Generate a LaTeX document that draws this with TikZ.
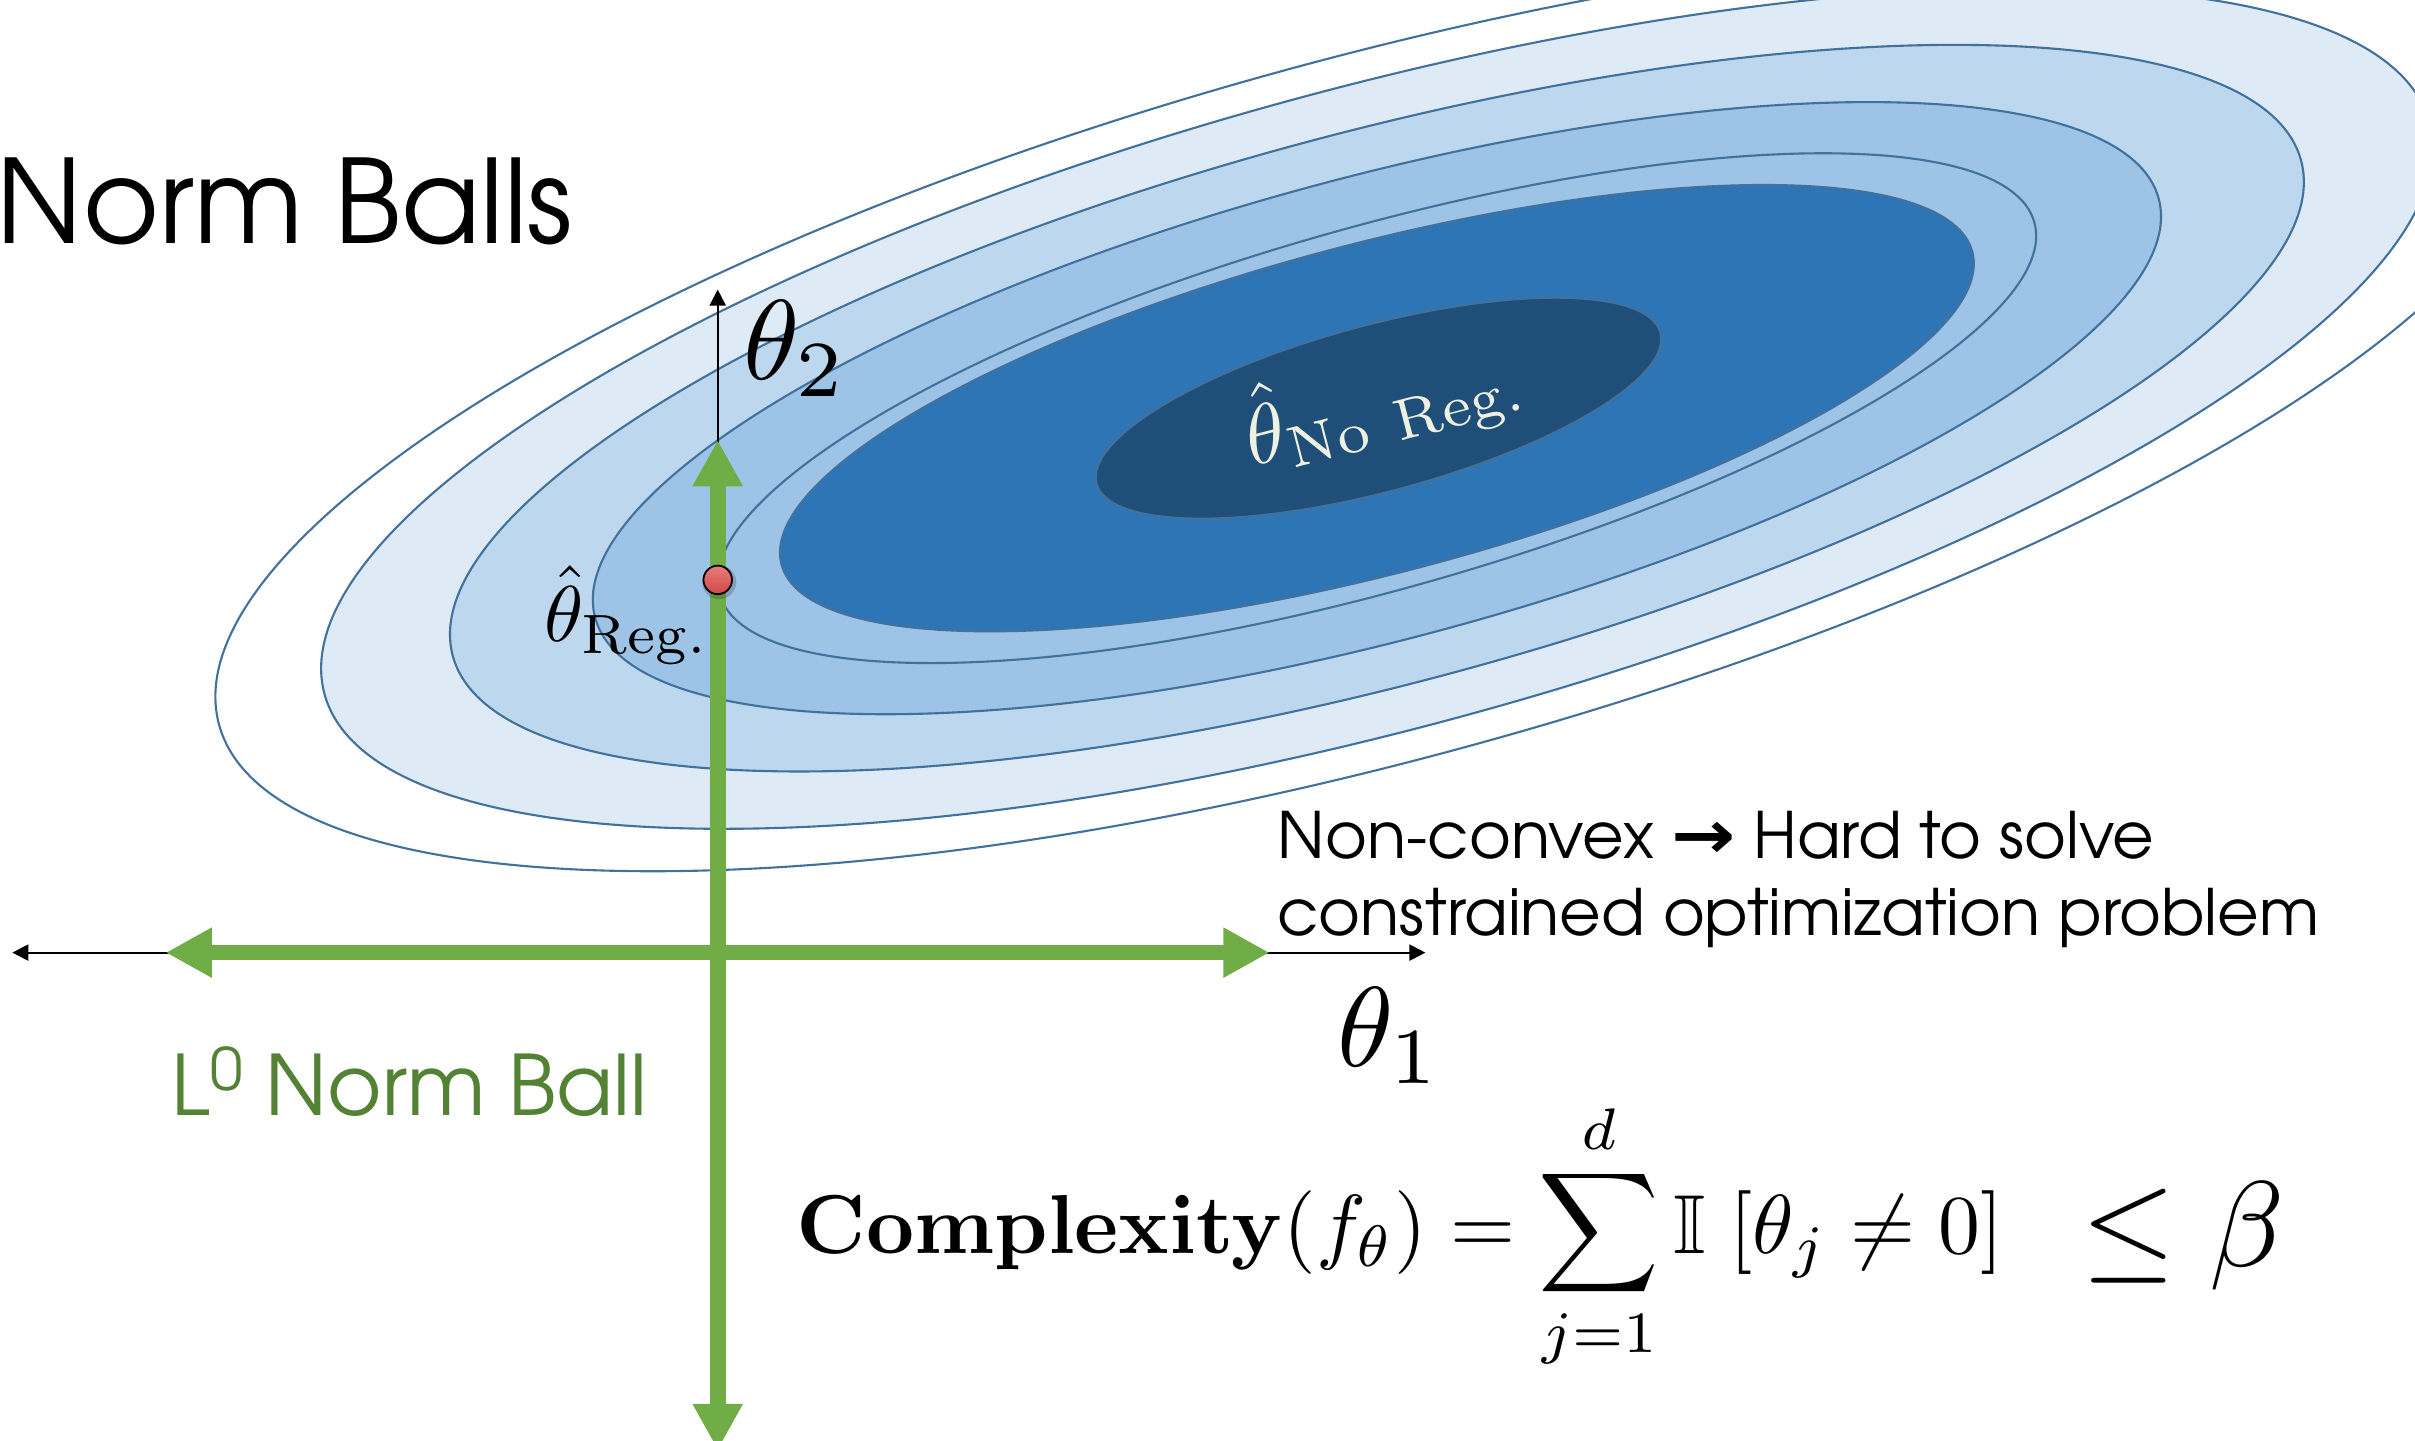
\documentclass[tikz,border=0pt]{standalone}
\usepackage{amsmath,amssymb}
\usepackage[no-math]{fontspec}
\usepackage{graphicx}
\usetikzlibrary{arrows.meta}
\newfontfamily\gothic{texgyreadventor}[Extension=.otf, UprightFont=*-regular, BoldFont=*-bold]
\newfontfamily\dejavu{DejaVu Sans}
\definecolor{fillA}{HTML}{DEEBF7}
\definecolor{fillB}{HTML}{BDD7EE}
\definecolor{fillC}{HTML}{9DC3E6}
\definecolor{fillD}{HTML}{2E75B6}
\definecolor{navyfill}{HTML}{1F4E79}
\definecolor{edgeblue}{HTML}{41719C}
\definecolor{axgreen}{HTML}{70AD47}
\definecolor{txgreen}{HTML}{548235}
\definecolor{creamtx}{HTML}{EEF1E2}
\definecolor{dottop}{HTML}{E97B7B}
\definecolor{dotbot}{HTML}{CF4848}
\tikzset{
  contour/.style={draw=edgeblue, line width=0.6pt},
  ctr/.style={shift={(894,265)}, rotate=#1},
  greenax/.style={draw=axgreen, line width=4.47pt, >={Triangle[length=4.62mm,width=4.7mm]}, <->},
  blackax/.style={draw=black, line width=0.6pt, >={Triangle[length=1.6mm,width=1.6mm]}},
  lbl/.style={anchor=base west, inner sep=0pt}
}
\begin{document}
\begin{tikzpicture}[x=0.015402cm, y=-0.015402cm]
\useasboundingbox (0,0) rectangle (1568,935);
\begin{scope}
\clip (0,0) rectangle (1568,935);
\draw[contour, ctr=15.3] (0,0) ellipse [x radius=779.4, y radius=227.4];
\draw[contour, fill=fillA, ctr=15.2] (0,0) ellipse [x radius=708.1, y radius=207.6];
\draw[contour, fill=fillB, ctr=15] (0,0) ellipse [x radius=621.2, y radius=178.7];
\draw[contour, fill=fillC, ctr=15] (0,0) ellipse [x radius=525.5, y radius=150.0];
\draw[contour, ctr=15.8] (0,0) ellipse [x radius=443.6, y radius=117.6];
\draw[contour, fill=fillD, ctr=14.7] (0,0) ellipse [x radius=399.7, y radius=107.0];
\draw[contour, fill=navyfill, shift={(895,265)}, rotate=15] (0,0) ellipse [x radius=189.5, y radius=54.2];
\end{scope}

\node[lbl, rotate=14.5, text=creamtx] (tnoreg) at (813,303) {\scalebox{2.36}{$\hat{\theta}_{\mathrm{No\ Reg.}}$}};

\coordinate (O) at (466,618.5);
\coordinate (xL) at (8,618.5);
\coordinate (xR) at (925.5,618.5);
\coordinate (yT) at (466,188);
\coordinate (gL) at (107.6,618.5);
\coordinate (gR) at (824.3,618.5);
\coordinate (gT) at (466,285.7);
\coordinate (gB) at (466,941.5);

\draw[blackax, <->] (xL) -- (xR);
\draw[blackax, ->] (O) -- (yT);
\draw[greenax] (gL) -- (gR);
\draw[greenax] (gB) -- (gT);

\fill[black, opacity=0.18] (467,378) circle [radius=11];
\node[circle, draw=black, line width=0.5pt, top color=dottop, bottom color=dotbot, minimum size=0.285cm, inner sep=0pt] (dot) at (466,376.5) {};

\node[lbl, font=\gothic\fontsize{33}{38}\selectfont] (title) at (-3,158.4) {Norm Balls};
\node[lbl] (t2) at (482,246.5) {\scalebox{3.23}{$\theta_2$}};
\node[lbl] (t1) at (868,692.5) {\scalebox{3.23}{$\theta_1$}};
\node[lbl] (treg) at (353,416.6) {\scalebox{2.25}{$\hat{\theta}_{\mathrm{Reg.}}$}};
\node[lbl, font=\gothic\fontsize{18.2}{22}\selectfont] (nc1) at (829,557.7) {Non-convex {\dejavu\bfseries\scalebox{1.2}[1.05]{→}} Hard to solve};
\node[lbl, font=\gothic\fontsize{18.2}{22}\selectfont] (nc2) at (829,607.7) {constrained optimization problem};
\node[lbl, text=txgreen, font=\gothic\fontsize{23.7}{28}\selectfont] (l0) at (111,724) {L\raisebox{7pt}{\fontsize{16.6}{16}\selectfont 0} Norm Ball};
\node[lbl] (cx) at (517,814) {\scalebox{2.38}{$\displaystyle \mathbf{Complexity}(f_\theta)=\sum_{j=1}^{d}\mathbb{I}\;[\theta_j\neq 0]$}};
\node[lbl] (leb) at (1351,822) {\scalebox{3.46}{$\leq\beta$}};
\end{tikzpicture}
\end{document}
